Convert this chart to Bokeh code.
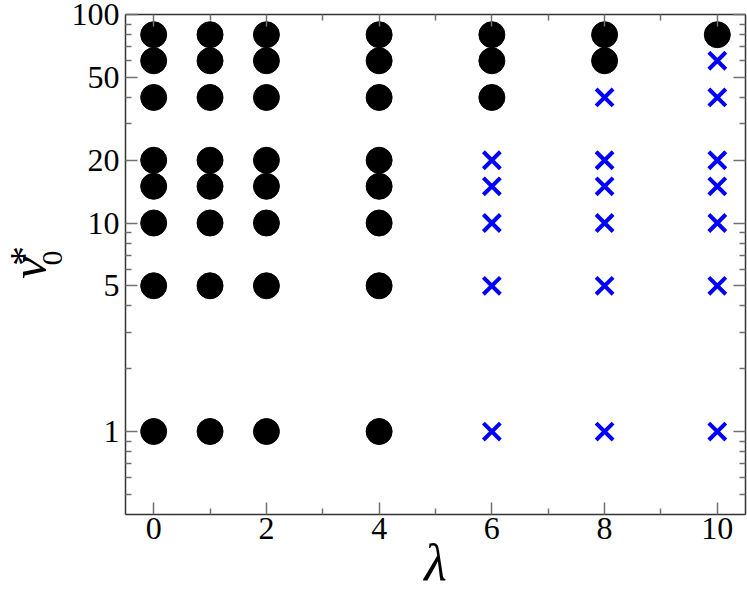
from bokeh.plotting import figure
from bokeh.layouts import row
from bokeh.models import (LinearAxis, LogAxis, FixedTicker, NumeralTickFormatter,
                          CustomJSTickFormatter)
from bokeh.core.properties import value
from bokeh.embed import file_html
from bokeh.resources import INLINE
import math

# ---- data ----
circle_lambda = [0, 0, 0, 0, 0, 0, 0, 0,
                 1, 1, 1, 1, 1, 1, 1, 1,
                 2, 2, 2, 2, 2, 2, 2, 2,
                 4, 4, 4, 4, 4, 4, 4, 4,
                 6, 6, 6,
                 8, 8,
                 10]
circle_v0 = [1, 5, 10, 15, 20, 40, 60, 80,
             1, 5, 10, 15, 20, 40, 60, 80,
             1, 5, 10, 15, 20, 40, 60, 80,
             1, 5, 10, 15, 20, 40, 60, 80,
             40, 60, 80,
             60, 80,
             80]
cross_lambda = [6, 6, 6, 6, 6,
                8, 8, 8, 8, 8, 8,
                10, 10, 10, 10, 10, 10, 10]
cross_v0 = [1, 5, 10, 15, 20,
            1, 5, 10, 15, 20, 40,
            1, 5, 10, 15, 20, 40, 60]

x_major = [0, 2, 4, 6, 8, 10]
x_minor = [1, 3, 5, 7, 9]
y_major = [1, 5, 10, 20, 50, 100]
y_minor = [0.5, 0.6, 0.7, 0.8, 0.9, 2, 3, 4, 6, 7, 8, 9, 30, 40, 60, 70, 80, 90]

FONT = "Liberation Serif"
AX = "#333333"
TK = "#707070"
W, H = 747, 593
LW = 68            # width of the strip holding the y title
FT, FB = 14, 515   # frame top / bottom (pixels from top)

# ---- strip with the y-axis title (nu_0^*) ; data coords = pixels from bottom ----
t = figure(width=LW, height=H, x_range=(0, LW), y_range=(H - FB, H - FT),
           output_backend="svg", toolbar_location=None,
           min_border_left=0, min_border_right=0,
           min_border_top=FT, min_border_bottom=H - FB,
           x_axis_location=None, y_axis_location=None)
t.xgrid.visible = False
t.ygrid.visible = False
t.outline_line_color = None
common = dict(angle=math.pi / 2, text_font=value(FONT), text_align="center",
              text_baseline="middle", text_color="black")
t.text(x=[28], y=[H - 268], text=["ν"], text_font_style="italic",
       text_font_size="50px", **common)
t.text(x=[52], y=[H - 258], text=["0"], text_font_size="30px", **common)
t.text(x=[23], y=[H - 256], text=["*"], text_font_size="40px", **common)

# ---- main plot ----
p = figure(width=W - LW, height=H, y_axis_type="log",
           x_range=(-0.5, 10.5), y_range=(0.4, 100),
           output_backend="svg", toolbar_location=None,
           min_border_left=125 - LW, min_border_right=2,
           min_border_top=FT, min_border_bottom=H - FB,
           x_axis_location=None, y_axis_location=None)
p.xgrid.visible = False
p.ygrid.visible = False
p.outline_line_color = None

def style(ax, show_labels):
    ax.axis_line_color = AX
    ax.axis_line_width = 1.5
    ax.major_tick_line_color = TK
    ax.minor_tick_line_color = TK
    ax.major_tick_line_width = 1.5
    ax.minor_tick_line_width = 1.5
    ax.major_tick_in = 12
    ax.major_tick_out = 0
    ax.minor_tick_in = 6
    ax.minor_tick_out = 0
    if show_labels:
        ax.major_label_text_font = FONT
        ax.major_label_text_font_size = "32px"
        ax.major_label_text_color = "black"
    else:
        ax.formatter = CustomJSTickFormatter(code="return ''")
        ax.major_label_standoff = 0

xt = FixedTicker(ticks=x_major, minor_ticks=x_minor)
yt = FixedTicker(ticks=y_major, minor_ticks=y_minor)

xb = LinearAxis(ticker=xt)
style(xb, True)
xb.major_label_standoff = 3
xb.axis_label = "λ"
xb.axis_label_text_font = FONT
xb.axis_label_text_font_style = "italic"
xb.axis_label_text_font_size = "52px"
xb.axis_label_text_color = "black"
xb.axis_label_standoff = -8
p.add_layout(xb, "below")

xtop = LinearAxis(ticker=xt)
style(xtop, False)
p.add_layout(xtop, "above")

yl = LogAxis(ticker=yt, formatter=NumeralTickFormatter(format="0"))
style(yl, True)
yl.major_label_standoff = 6
p.add_layout(yl, "left")

yr = LogAxis(ticker=yt)
style(yr, False)
p.add_layout(yr, "right")

p.scatter(circle_lambda, circle_v0, marker="circle", size=26,
          fill_color="black", line_color="black")
p.scatter(cross_lambda, cross_v0, marker="x", size=24,
          line_color="#0000ff", line_width=4)

layout = row(t, p, spacing=0)
open("out.html", "w").write(file_html(layout, INLINE))
